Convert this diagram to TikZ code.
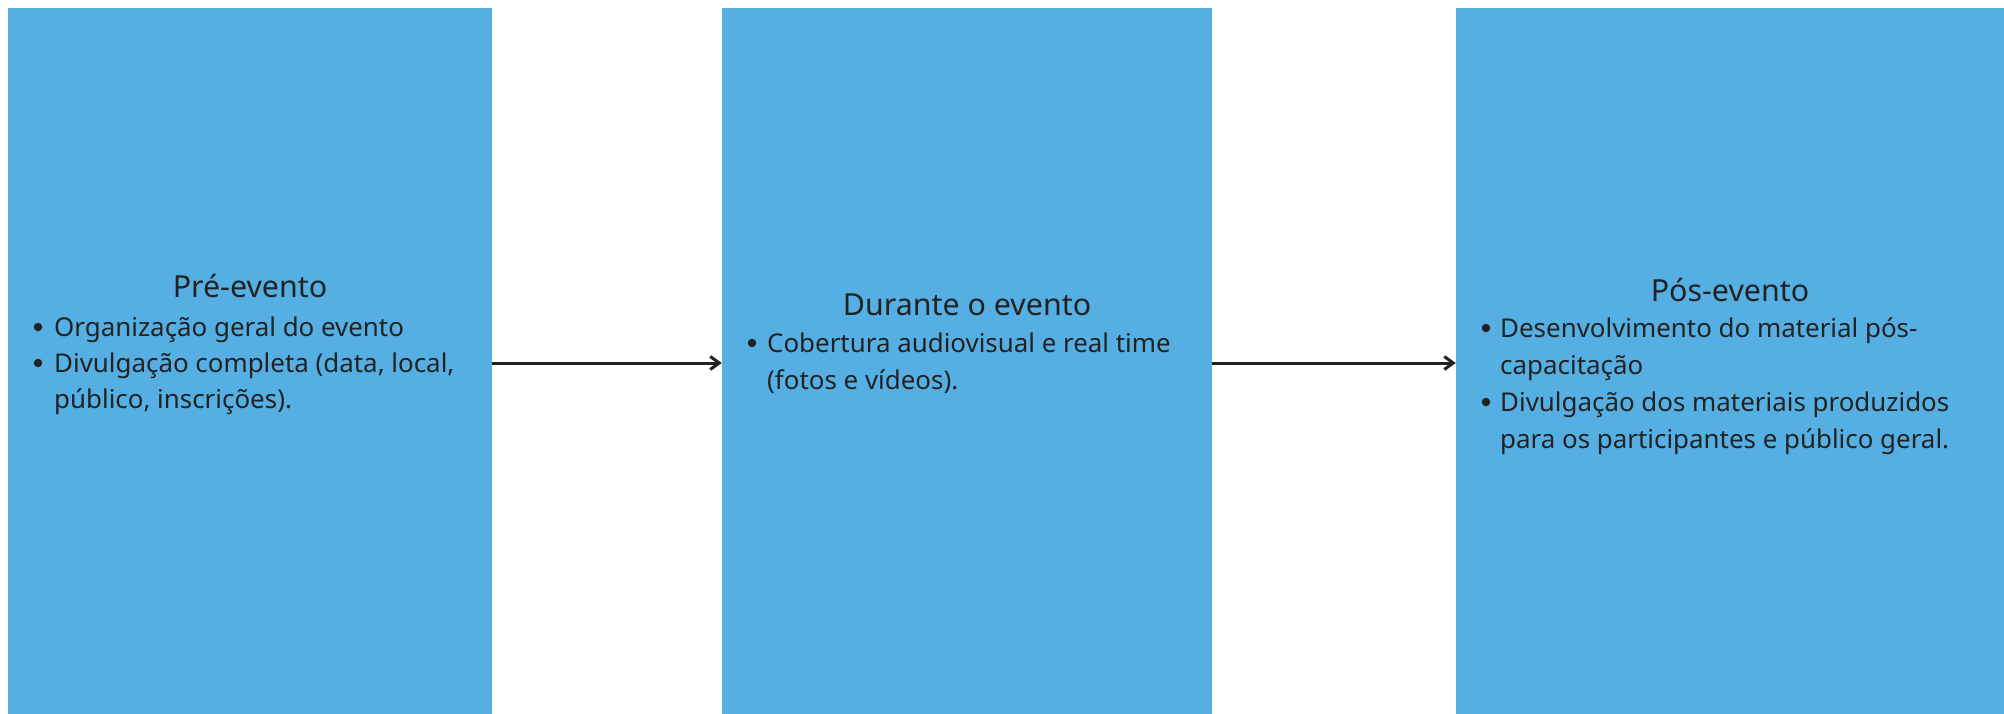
\documentclass[tikz,border=0pt]{standalone}
\usepackage{fontspec}
\setmainfont{Noto Sans}
\usetikzlibrary{arrows.meta}
\definecolor{boxblue}{HTML}{56AFE2}
\definecolor{ink}{HTML}{222222}
\tikzset{
  phase/.style={rectangle, fill=boxblue, draw=none, inner sep=0pt},
  ttl/.style={anchor=base, inner sep=0pt, text=ink, font=\fontsize{30.5}{36}\selectfont},
  itm/.style={anchor=base west, inner sep=0pt, text=ink, font=\fontsize{26}{36}\selectfont},
  bul/.style={circle, fill=ink, draw=none, inner sep=0pt, minimum size=8.5bp},
  flow/.style={draw=ink, line width=3bp, -{Straight Barb[length=9bp,width=13bp,line width=3bp]}}
}
\begin{document}
\begin{tikzpicture}[x=1bp,y=-1bp]
\useasboundingbox (0,0) rectangle (2004,714);
\fill[white] (0,0) rectangle (2004,714);
\begin{scope}
\clip (0,0) rectangle (2004,714);
\node[phase, minimum width=484bp, minimum height=710bp] (b1) at (250,363) {};
\node[phase, minimum width=490bp, minimum height=710bp] (b2) at (967,363) {};
\node[phase, minimum width=548bp, minimum height=710bp] (b3) at (1730,363) {};
\end{scope}
% box 1
\node[ttl] (t1) at (250,297) {Pré-evento};
\node[bul] (d11) at (38,327) {};
\node[itm] (l11) at (54,336) {Organização geral do evento};
\node[bul] (d12) at (38,363) {};
\node[itm] (l12) at (54,372) {Divulgação completa (data, local,};
\node[itm] (l13) at (54,408) {público, inscrições).};
% box 2
\node[ttl] (t2) at (967,315) {Durante o evento};
\node[bul] (d21) at (752,343) {};
\node[itm] (l21) at (767,352) {Cobertura audiovisual e real time};
\node[itm] (l22) at (767,389) {(fotos e vídeos).};
% box 3
\node[ttl] (t3) at (1730,301) {Pós-evento};
\node[bul] (d31) at (1486,328) {};
\node[itm] (l31) at (1500,337) {Desenvolvimento do material pós-};
\node[itm] (l32) at (1500,374) {capacitação};
\node[bul] (d33) at (1486,402) {};
\node[itm] (l33) at (1500,411) {Divulgação dos materiais produzidos};
\node[itm] (l34) at (1500,448) {para os participantes e público geral.};
% arrows
\draw[flow] (b1.east) -- (b2.west);
\draw[flow] (b2.east) -- (b3.west);
\end{tikzpicture}
\end{document}
